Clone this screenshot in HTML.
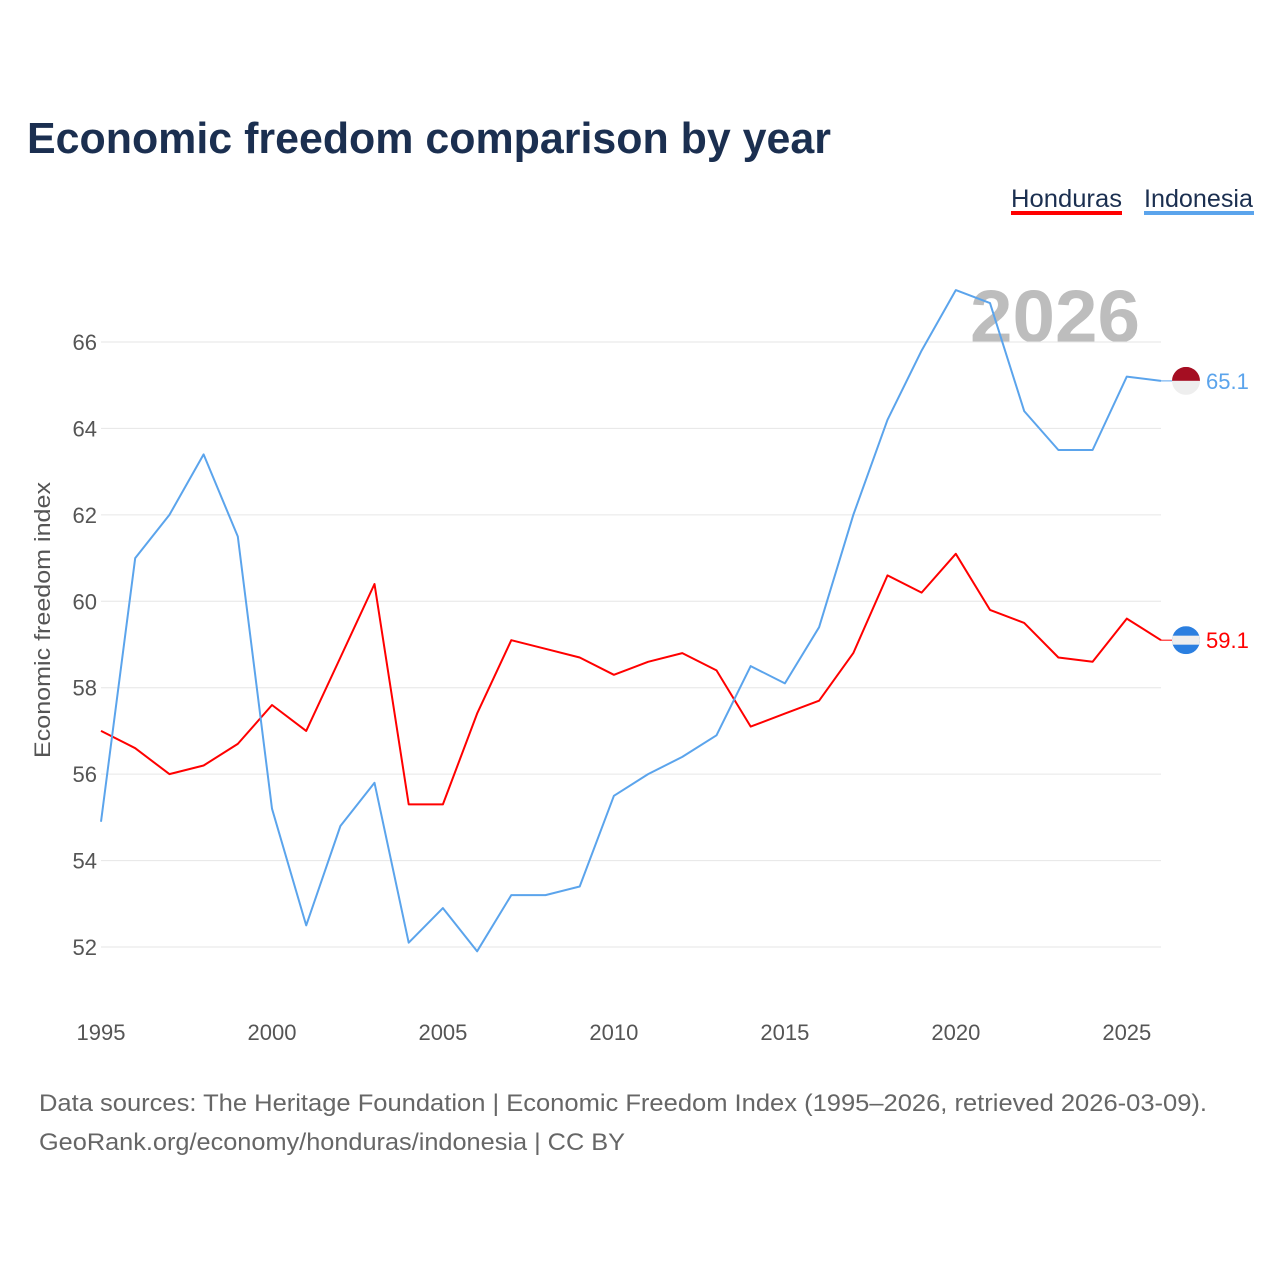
<!DOCTYPE html>
<html><head><meta charset="utf-8">
<style>
html,body{margin:0;padding:0;background:#fff;}
body{width:1280px;height:1280px;overflow:hidden;font-family:"Liberation Sans",sans-serif;}
</style></head>
<body>
<svg id="chart" width="1280" height="1280" xmlns="http://www.w3.org/2000/svg" font-family="Liberation Sans, sans-serif">
<text x="27" y="153" font-size="44" font-weight="bold" fill="#1b2f50" textLength="804" lengthAdjust="spacingAndGlyphs">Economic freedom comparison by year</text>
<g>
<g>
<text x="1011" y="207" font-size="25" fill="#1b2f50" textLength="111" lengthAdjust="spacingAndGlyphs">Honduras</text>
<rect x="1011" y="211" width="111" height="4" fill="#ff0000"/>
</g>
<g>
<text x="1144" y="207" font-size="25" fill="#1b2f50" textLength="109" lengthAdjust="spacingAndGlyphs">Indonesia</text>
<rect x="1144" y="211" width="110" height="4" fill="#5ba4ec"/>
</g>
</g>
<text x="1140" y="342" font-size="74" font-weight="bold" fill="#bdbdbd" text-anchor="end" textLength="170" lengthAdjust="spacingAndGlyphs">2026</text>
<g id="grid"></g>
<g id="yticks"></g>
<g id="xticks"></g>
<text transform="translate(50,620) rotate(-90)" font-size="22" fill="#555" text-anchor="middle" textLength="276" lengthAdjust="spacingAndGlyphs">Economic freedom index</text>
<g id="series"></g>
<g id="ends"></g>
<text x="39" y="1111" font-size="24" fill="#666" textLength="1168" lengthAdjust="spacingAndGlyphs">Data sources: The Heritage Foundation | Economic Freedom Index (1995–2026, retrieved 2026-03-09).</text>
<text x="39" y="1150" font-size="24" fill="#666" textLength="586" lengthAdjust="spacingAndGlyphs">GeoRank.org/economy/honduras/indonesia | CC BY</text>
</svg>
<script>
const years = [];
for (let y = 1995; y <= 2026; y++) years.push(y);
const honduras = [57.0,56.6,56.0,56.2,56.7,57.6,57.0,58.7,60.4,55.3,55.3,57.4,59.1,58.9,58.7,58.3,58.6,58.8,58.4,57.1,57.4,57.7,58.8,60.6,60.2,61.1,59.8,59.5,58.7,58.6,59.6,59.1];
const indonesia = [54.9,61.0,62.0,63.4,61.5,55.2,52.5,54.8,55.8,52.1,52.9,51.9,53.2,53.2,53.4,55.5,56.0,56.4,56.9,58.5,58.1,59.4,62.0,64.2,65.8,67.2,66.9,64.4,63.5,63.5,65.2,65.1];
const yTicks = [52,54,56,58,60,62,64,66];
const xTicks = [1995,2000,2005,2010,2015,2020,2025];

const NS = "http://www.w3.org/2000/svg";
const X0 = 101, X1 = 1161, Y66 = 342, Y52 = 947;
const xScale = yr => X0 + (yr - 1995) * (X1 - X0) / 31;
const yScale = v => Y52 - (v - 52) * (Y52 - Y66) / 14;
function mk(tag, attrs, parent) {
  const e = document.createElementNS(NS, tag);
  for (const k in attrs) e.setAttribute(k, attrs[k]);
  parent.appendChild(e);
  return e;
}
const grid = document.getElementById('grid'), yt = document.getElementById('yticks'), xt = document.getElementById('xticks');
yTicks.forEach(v => {
  const l = mk('line', {x1: X0, x2: X1, y1: yScale(v), y2: yScale(v), stroke: '#e6e6e6', 'stroke-width': 1}, grid);
  
  
  const t = mk('text', {x: 97, y: yScale(v) + 8, 'font-size': 22, fill: '#555', 'text-anchor': 'end'}, yt);
  t.textContent = v;
  
  
});
xTicks.forEach(v => {
  const t = mk('text', {x: xScale(v), y: 1040, 'font-size': 22, fill: '#555', 'text-anchor': 'middle'}, xt);
  t.textContent = v;
  
  
});
const series = document.getElementById('series'), ends = document.getElementById('ends');
function drawSeries(vals, color, name, flag) {
  const d = vals.map((v, i) => (i ? 'L' : 'M') + xScale(years[i]).toFixed(1) + ',' + yScale(v).toFixed(1)).join(' ');
  const p = mk('path', {d: d, fill: 'none', stroke: color, 'stroke-width': 2, 'stroke-linejoin': 'round'}, series);
  
  
  const last = vals[vals.length - 1], ly = yScale(last);
  mk('line', {x1: X1, x2: 1172, y1: ly, y2: ly, stroke: color, 'stroke-width': 1}, ends);
  const g = mk('g', {}, ends);
  
  
  const cx = 1186, r = 14;
  const cpath = mk('clipPath', {id: 'clip-' + name}, g);
  mk('circle', {cx: cx, cy: ly, r: r}, cpath);
  const fg = mk('g', {'clip-path': 'url(#clip-' + name + ')'}, g);
  if (flag === 'id') {
    mk('rect', {x: cx - r, y: ly - r, width: 2 * r, height: r, fill: '#a50e22'}, fg);
    mk('rect', {x: cx - r, y: ly, width: 2 * r, height: r, fill: '#eeeeee'}, fg);
  } else {
    mk('rect', {x: cx - r, y: ly - r, width: 2 * r, height: 2 * r, fill: '#2b7fe0'}, fg);
    mk('rect', {x: cx - r, y: ly - 4.5, width: 2 * r, height: 9, fill: '#eeeeee'}, fg);
  }
  const t = mk('text', {x: 1206, y: ly + 8, 'font-size': 22, fill: color}, ends);
  t.textContent = last.toFixed(1);
  
  
}
drawSeries(honduras, '#ff0000', 'honduras', 'hn');
drawSeries(indonesia, '#5ba4ec', 'indonesia', 'id');
</script>
</body></html>
